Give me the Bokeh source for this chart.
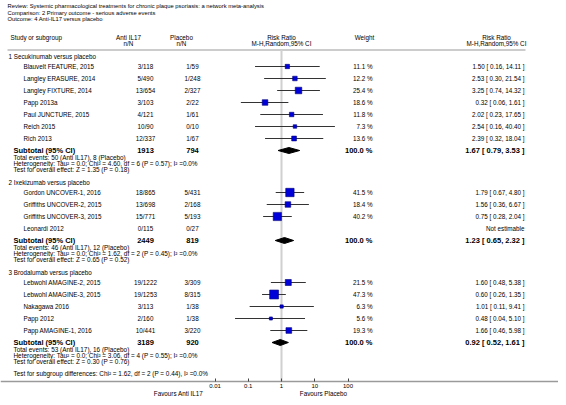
import math
from bokeh.plotting import figure
from bokeh.models import Range1d, LogScale, LogAxis, FixedTicker
from bokeh.core.properties import value
from bokeh.embed import file_html
from bokeh.resources import INLINE

# ---------------- data ----------------
review_line = "Review:  Systemic pharmacological treatments for chronic plaque psoriasis: a network meta-analysis"
comparison_line = "Comparison:  2 Primary outcome - serious adverse events"
outcome_line = "Outcome:  4 Anti-IL17 versus placebo"

group_names = ["1 Secukinumab versus placebo", "2 Ixekizumab versus placebo", "3 Brodalumab versus placebo"]

study_names = ["Blauvelt FEATURE, 2015", "Langley ERASURE, 2014", "Langley FIXTURE, 2014", "Papp 2013a",
               "Paul JUNCTURE, 2015", "Reich 2015", "Rich 2013",
               "Gordon UNCOVER-1, 2016", "Griffiths UNCOVER-2, 2015", "Griffiths UNCOVER-3, 2015", "Leonardi 2012",
               "Lebwohl AMAGINE-2, 2015", "Lebwohl AMAGINE-3, 2015", "Nakagawa 2016", "Papp 2012", "Papp AMAGINE-1, 2016"]
study_group = [0, 0, 0, 0, 0, 0, 0, 1, 1, 1, 1, 2, 2, 2, 2, 2]
anti_events = [3, 5, 13, 3, 4, 10, 12, 18, 13, 15, 0, 19, 19, 3, 2, 10]
anti_total = [118, 490, 654, 103, 121, 90, 337, 865, 698, 771, 115, 1222, 1253, 113, 160, 441]
plac_events = [1, 1, 2, 2, 1, 0, 1, 5, 2, 5, 0, 3, 8, 1, 1, 3]
plac_total = [59, 248, 327, 22, 61, 10, 67, 431, 168, 193, 27, 309, 315, 38, 38, 220]
weights = [11.1, 12.2, 25.4, 18.6, 11.8, 7.3, 13.6, 41.5, 18.4, 40.2, None, 21.5, 47.3, 6.3, 5.6, 19.3]
rr = [1.50, 2.53, 3.25, 0.32, 2.02, 2.54, 2.39, 1.79, 1.56, 0.75, None, 1.60, 0.60, 1.01, 0.48, 1.66]
ci_lo = [0.16, 0.30, 0.74, 0.06, 0.23, 0.16, 0.32, 0.67, 0.36, 0.28, None, 0.48, 0.26, 0.11, 0.04, 0.46]
ci_hi = [14.11, 21.54, 14.32, 1.61, 17.65, 40.40, 18.04, 4.80, 6.67, 2.04, None, 5.38, 1.35, 9.41, 5.10, 5.98]

sub_anti_total = [1913, 2449, 3189]
sub_plac_total = [794, 819, 920]
sub_anti_events = [50, 46, 53]
sub_plac_events = [8, 12, 16]
sub_rr = [1.67, 1.23, 0.92]
sub_lo = [0.79, 0.65, 0.52]
sub_hi = [3.53, 2.32, 1.61]
het_tau2 = [0.0, 0.0, 0.0]
het_chi2 = [4.60, 1.62, 3.06]
het_df = [6, 2, 4]
het_p = [0.57, 0.45, 0.55]
het_i2 = [0.0, 0.0, 0.0]
z_val = [1.35, 0.65, 0.30]
z_p = [0.18, 0.52, 0.76]
diff_chi2, diff_df, diff_p, diff_i2 = 1.62, 2, 0.44, 0.0

tick_vals = [0.01, 0.1, 1, 10, 100]
tick_labels = ["0.01", "0.1", "1", "10", "100"]
favour_labels = ["Favours Anti IL17", "Favours Placebo"]

# ---------------- layout constants (picture pixels) ----------------
FONT = value("Liberation Sans")
PX_ONE = 281.0      # x of RR = 1
PX_DEC = 33.25      # pixels per decade
W, H = 558, 397
AXIS_Y = 381

p = figure(width=W, height=H, output_backend="svg", toolbar_location=None,
           x_range=Range1d(0, W), y_range=Range1d(H, 0),
           x_axis_location=None, y_axis_location=None, min_border=0)
p.outline_line_color = None
p.grid.visible = False

p.extra_x_ranges = {"rr": Range1d(10 ** ((0 - PX_ONE) / PX_DEC), 10 ** ((W - PX_ONE) / PX_DEC))}
p.extra_x_scales = {"rr": LogScale()}

ax = LogAxis(x_range_name="rr", ticker=FixedTicker(ticks=tick_vals), fixed_location=AXIS_Y,
             major_label_overrides={v: l for v, l in zip(tick_vals, tick_labels)})
ax.axis_line_color = "#9a9a9a"
ax.axis_line_width = 1.5
ax.major_tick_in = 3
ax.major_tick_out = 0
ax.minor_tick_in = 0
ax.minor_tick_out = 0
ax.major_tick_line_color = "#444444"
ax.major_label_standoff = 2
ax.major_label_text_font = "Liberation Sans"
ax.major_label_text_font_size = "6px"
ax.major_label_text_color = "black"
p.add_layout(ax, "below")

# row layout
group_y, study_y, sub_y, tot_y, het_y, test_y = [], [], [], [], [], []
y = 56
for g in range(len(group_names)):
    group_y.append(y)
    y += 10
    for gi in study_group:
        if gi == g:
            study_y.append(y)
            y += 12
    sub_y.append(y)
    tot_y.append(y + 7)
    het_y.append(y + 13)
    test_y.append(y + 19)
    y += 32
diff_y = test_y[-1] + 12


def txt(x, y, t, size="6.3px", align="left", bold=False):
    p.text(x=x if isinstance(x, list) else [x], y=y if isinstance(y, list) else [y],
           text=t if isinstance(t, list) else [t], text_font=FONT, text_font_size=size,
           text_align=align, text_baseline="middle", text_color="black",
           text_font_style="bold" if bold else "normal")


# title lines
txt(7, 5.5, review_line, "5.8px")
txt(7, 12, comparison_line, "5.8px")
txt(7, 18.5, outcome_line, "5.8px")

# headers
txt(10, 37, "Study or subgroup")
txt([128, 128], [37, 43], ["Anti IL17", "n/N"], align="center")
txt([181, 181], [37, 43], ["Placebo", "n/N"], align="center")
txt([PX_ONE, PX_ONE], [37, 43], ["Risk Ratio", "M-H,Random,95% CI"], align="center")
txt(364, 37, "Weight", align="center")
txt([496, 496], [37, 43], ["Risk Ratio", "M-H,Random,95% CI"], align="center")
p.segment(x0=[7], x1=[525], y0=[49.5], y1=[49.5], line_color="#9a9a9a", line_width=1.2)

# reference line at RR = 1
p.segment(x0=[1], x1=[1], y0=[49.5], y1=[AXIS_Y], x_range_name="rr", line_color="#d0d0d0", line_width=2)

# group headers
txt([8] * 3, group_y, group_names)

# studies
txt([23] * len(study_names), study_y, study_names)
txt([145] * len(study_names), study_y, [f"{a}/{n}" for a, n in zip(anti_events, anti_total)], align="center")
txt([192] * len(study_names), study_y, [f"{a}/{n}" for a, n in zip(plac_events, plac_total)], align="center")
txt([372] * len(study_names), study_y, [f"{w:.1f} %" if w is not None else "" for w in weights], align="right")
txt([524] * len(study_names), study_y,
    [f"{r:.2f} [ {l:.2f}, {h:.2f} ]" if r is not None else "Not estimable" for r, l, h in zip(rr, ci_lo, ci_hi)],
    align="right")

est = [i for i, r in enumerate(rr) if r is not None]
p.segment(x0=[ci_lo[i] for i in est], x1=[ci_hi[i] for i in est], y0=[study_y[i] for i in est],
          y1=[study_y[i] for i in est], x_range_name="rr", line_color="#333333", line_width=1)
p.scatter(x=[rr[i] for i in est], y=[study_y[i] for i in est], marker="square",
          size=[1.3 * math.sqrt(weights[i]) for i in est], x_range_name="rr",
          fill_color="#0000d8", line_color="#00007a", line_width=0.6)

# subtotals
txt([13] * 3, sub_y, ["Subtotal (95% CI)"] * 3, "7.5px", bold=True)
txt([145] * 3, sub_y, [str(v) for v in sub_anti_total], "7.5px", "center", True)
txt([192] * 3, sub_y, [str(v) for v in sub_plac_total], "7.5px", "center", True)
txt([372] * 3, sub_y, ["100.0 %"] * 3, "7.5px", "right", True)
txt([524] * 3, sub_y, [f"{r:.2f} [ {l:.2f}, {h:.2f} ]" for r, l, h in zip(sub_rr, sub_lo, sub_hi)], "7.5px", "right", True)
p.patches(xs=[[l, r, h, r] for r, l, h in zip(sub_rr, sub_lo, sub_hi)],
          ys=[[yy, yy - 3, yy, yy + 3] for yy in sub_y], x_range_name="rr",
          fill_color="black", line_color="black")

txt([13] * 3, tot_y, [f"Total events: {a} (Anti IL17), {b} (Placebo)" for a, b in zip(sub_anti_events, sub_plac_events)], "6.4px")
txt([13] * 3, het_y, [f"Heterogeneity: Tau\u00b2 = {t:.1f}; Chi\u00b2 = {c:.2f}, df = {d} (P = {pp:.2f}); I\u00b2 ={i:.1f}%"
                      for t, c, d, pp, i in zip(het_tau2, het_chi2, het_df, het_p, het_i2)], "6.4px")
txt([13] * 3, test_y, [f"Test for overall effect: Z = {zz:.2f} (P = {pp:.2f})" for zz, pp in zip(z_val, z_p)], "6.4px")
txt(13, diff_y, f"Test for subgroup differences: Chi\u00b2 = {diff_chi2:.2f}, df = {diff_df} (P = {diff_p:.2f}), I\u00b2 ={diff_i2:.1f}%", "6.4px")

# favours labels
txt([178, 323], [393, 393], favour_labels, "6.3px", "center")

open("out.html", "w").write(file_html(p, INLINE))
